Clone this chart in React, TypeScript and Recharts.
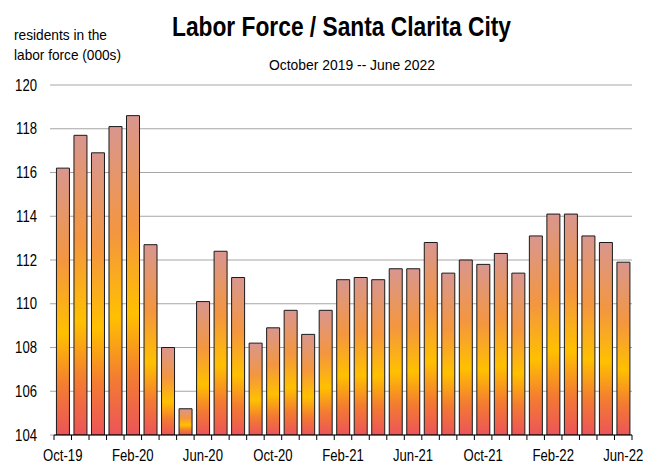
import React from "react";
import { BarChart, Bar, XAxis, YAxis, CartesianGrid } from "recharts";

const months = [
  "Oct-19", "Nov-19", "Dec-19", "Jan-20", "Feb-20", "Mar-20", "Apr-20", "May-20", "Jun-20", "Jul-20", "Aug-20",
  "Sep-20", "Oct-20", "Nov-20", "Dec-20", "Jan-21", "Feb-21", "Mar-21", "Apr-21", "May-21", "Jun-21", "Jul-21",
  "Aug-21", "Sep-21", "Oct-21", "Nov-21", "Dec-21", "Jan-22", "Feb-22", "Mar-22", "Apr-22", "May-22", "Jun-22",
];
const laborForce = [
  116.2, 117.7, 116.9, 118.1, 118.6, 112.7, 108.0, 105.2, 110.1, 112.4, 111.2,
  108.2, 108.9, 109.7, 108.6, 109.7, 111.1, 111.2, 111.1, 111.6, 111.6, 112.8,
  111.4, 112.0, 111.8, 112.3, 111.4, 113.1, 114.1, 114.1, 113.1, 112.8, 111.9,
];
const yTicks = [104, 106, 108, 110, 112, 114, 116, 118, 120];

const data = months.map((m, i) => ({ m, v: laborForce[i] }));

const W = 654;
const H = 465;
const MARGIN = { top: 85, right: 22, bottom: 0, left: 0 };
const Y_W = 54;
const X_H = 30;
const FONT = "'Liberation Sans', Arial, sans-serif";
const NARROW = 0.82;

const bandW = (W - MARGIN.left - MARGIN.right - Y_W) / months.length;

const XTick = (props: any) => {
  const { x, y, payload, index } = props;
  const show = index % 4 === 0;
  return (
    <g>
      <line x1={x - bandW / 2} x2={x - bandW / 2} y1={y} y2={y + 5} stroke="#000" strokeWidth={1} />
      {index === months.length - 1 && (
        <line x1={x + bandW / 2} x2={x + bandW / 2} y1={y} y2={y + 5} stroke="#000" strokeWidth={1} />
      )}
      {show && (
        <text
          transform={`translate(${x},${y + 26}) scale(${NARROW},1)`}
          textAnchor="middle"
          fontSize={16}
          fill="#000"
          fontFamily={FONT}
        >
          {payload.value}
        </text>
      )}
    </g>
  );
};

const YTick = (props: any) => {
  const { x, y, payload } = props;
  return (
    <text
      transform={`translate(${x},${y + 5.5}) scale(${NARROW},1)`}
      textAnchor="end"
      fontSize={16}
      fill="#000"
      fontFamily={FONT}
    >
      {payload.value}
    </text>
  );
};

export default function App() {
  return (
    <div style={{ position: "absolute", left: 0, top: 0, width: W, height: H, background: "#fff" }}>
      <BarChart width={W} height={H} data={data} margin={MARGIN} barCategoryGap="14%">
        <defs>
          <linearGradient id="barGrad" x1="0" y1="0" x2="0" y2="1">
            <stop offset="0%" stopColor="#D9968F" />
            <stop offset="35%" stopColor="#F4963F" />
            <stop offset="62%" stopColor="#FFC000" />
            <stop offset="82%" stopColor="#F37B32" />
            <stop offset="100%" stopColor="#EC5459" />
          </linearGradient>
        </defs>
        <CartesianGrid vertical={false} stroke="#a6a6a6" strokeWidth={1} />
        <XAxis
          dataKey="m"
          interval={0}
          height={X_H}
          tickLine={false}
          tickSize={0}
          tickMargin={0}
          axisLine={{ stroke: "#000", strokeWidth: 1 }}
          tick={<XTick />}
        />
        <YAxis
          domain={[104, 120]}
          ticks={yTicks}
          width={Y_W}
          axisLine={false}
          tickLine={{ stroke: "#a6a6a6" }}
          tickSize={4}
          tickMargin={13}
          tick={<YTick />}
          allowDataOverflow
        />
        <Bar dataKey="v" fill="url(#barGrad)" stroke="#1a1a1a" strokeWidth={1} isAnimationActive={false} />
      </BarChart>
      <svg width={W} height={80} style={{ position: "absolute", left: 0, top: 0, pointerEvents: "none" }}>
        <text x={172} y={36} fontSize={27} fontWeight="bold" fontFamily={FONT} fill="#000" textLength={339} lengthAdjust="spacingAndGlyphs">
          Labor Force / Santa Clarita City
        </text>
        <text x={269} y={70} fontSize={15.5} fontFamily={FONT} fill="#000" textLength={166} lengthAdjust="spacingAndGlyphs">
          October 2019 -- June 2022
        </text>
        <text x={14} y={40} fontSize={15} fontFamily={FONT} fill="#000" textLength={93} lengthAdjust="spacingAndGlyphs">
          residents in the
        </text>
        <text x={14} y={60} fontSize={15} fontFamily={FONT} fill="#000" textLength={107} lengthAdjust="spacingAndGlyphs">
          labor force (000s)
        </text>
      </svg>
    </div>
  );
}
